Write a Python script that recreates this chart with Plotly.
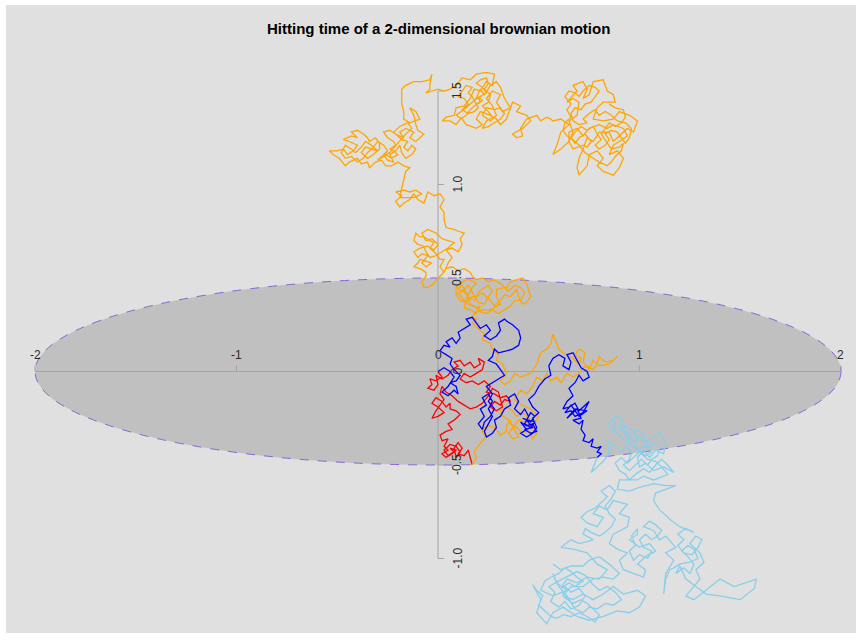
import plotly.graph_objects as go

# Two planar Brownian paths started at the origin.  Each one is drawn in one
# colour until it first hits the ellipse x^2/4 + y^2/0.25 = 1, and in a second
# colour afterwards.

# --- path 1 -----------------------------------------------------------------
red_path = [
    (0.00, 0.00), (0.02, -0.03), (-0.01, -0.05), (-0.04, -0.04), (-0.03, -0.07),
    (-0.05, -0.09), (-0.02, -0.10), (0.00, -0.07), (-0.01, -0.02),
    (0.02, -0.04), (0.05, -0.02), (0.07, 0.01), (0.10, 0.03), (0.08, 0.05),
    (0.11, 0.06), (0.13, 0.03), (0.16, 0.05), (0.18, 0.02), (0.21, 0.04),
    (0.20, 0.07), (0.23, 0.05), (0.22, 0.01), (0.19, -0.01), (0.16, -0.03),
    (0.13, -0.01), (0.11, -0.04), (0.14, -0.06), (0.17, -0.05), (0.20, -0.07),
    (0.23, -0.05), (0.26, -0.08), (0.24, -0.11), (0.28, -0.12), (0.31, -0.14),
    (0.34, -0.13), (0.36, -0.16), (0.33, -0.15), (0.31, -0.18), (0.28, -0.16),
    (0.26, -0.19), (0.29, -0.21), (0.32, -0.19), (0.30, -0.11), (0.27, -0.09),
    (0.25, -0.13), (0.22, -0.17), (0.19, -0.19), (0.16, -0.20), (0.13, -0.18),
    (0.10, -0.16), (0.07, -0.13), (0.04, -0.11), (0.02, -0.08), (0.01, -0.12),
    (0.03, -0.15), (0.01, -0.18), (-0.01, -0.21), (-0.03, -0.25), (0.00, -0.24),
    (0.03, -0.22), (0.00, -0.19), (-0.03, -0.17), (-0.01, -0.14), (0.02, -0.16),
    (0.04, -0.19), (0.06, -0.17), (0.06, -0.20), (0.09, -0.21), (0.11, -0.23),
    (0.08, -0.26), (0.05, -0.28), (0.07, -0.31), (0.04, -0.32), (0.01, -0.34),
    (0.02, -0.37), (0.05, -0.36), (0.03, -0.40), (0.05, -0.42), (0.02, -0.44),
    (0.04, -0.46), (0.07, -0.44), (0.09, -0.42), (0.06, -0.41), (0.08, -0.43),
    (0.05, -0.45), (0.03, -0.42), (0.06, -0.39), (0.09, -0.40), (0.11, -0.43),
    (0.09, -0.46), (0.08, -0.41), (0.10, -0.38), (0.12, -0.41), (0.10, -0.44),
    (0.13, -0.45), (0.15, -0.42), (0.16, -0.46), (0.17, -0.50),
]

orange_path = [
    # back inside the ellipse after the hit
    (0.17, -0.50), (0.19, -0.46), (0.18, -0.43), (0.20, -0.40), (0.22, -0.37),
    (0.24, -0.35), (0.22, -0.32), (0.23, -0.30), (0.26, -0.29), (0.29, -0.31),
    (0.31, -0.34), (0.34, -0.32), (0.34, -0.29), (0.36, -0.26), (0.36, -0.28),
    (0.39, -0.30), (0.42, -0.33), (0.45, -0.31), (0.47, -0.36), (0.49, -0.33),
    (0.46, -0.29), (0.43, -0.27), (0.40, -0.26), (0.38, -0.29), (0.35, -0.33),
    (0.37, -0.36), (0.40, -0.35), (0.38, -0.31), (0.36, -0.27), (0.34, -0.25),
    (0.32, -0.24), (0.31, -0.21), (0.34, -0.19), (0.37, -0.21), (0.39, -0.24),
    (0.42, -0.22), (0.45, -0.25), (0.48, -0.27), (0.50, -0.24), (0.47, -0.21),
    (0.44, -0.19), (0.40, -0.17), (0.38, -0.15), (0.41, -0.10), (0.44, -0.12),
    (0.47, -0.08), (0.49, -0.03), (0.52, -0.05), (0.54, -0.01), (0.56, -0.05),
    (0.59, -0.03), (0.61, -0.06), (0.64, -0.01), (0.67, -0.03), (0.70, -0.01),
    (0.72, 0.02), (0.74, 0.03), (0.77, 0.01), (0.79, 0.04), (0.80, 0.08),
    (0.83, 0.05), (0.87, 0.06), (0.89, 0.08), (0.85, 0.04), (0.80, 0.03),
    (0.77, 0.06), (0.75, 0.01), (0.72, 0.05), (0.73, 0.10), (0.70, 0.12),
    (0.68, 0.09), (0.71, 0.07), (0.70, 0.04), (0.67, 0.07),
    (0.65, 0.08), (0.62, 0.10), (0.60, 0.12), (0.59, 0.15), (0.57, 0.20),
    (0.56, 0.15), (0.54, 0.12), (0.51, 0.10), (0.50, 0.07), (0.49, 0.04),
    (0.46, -0.01), (0.43, -0.02), (0.41, -0.03), (0.38, -0.01), (0.36, -0.05),
    (0.33, -0.07), (0.31, -0.05), (0.34, -0.01), (0.32, 0.04), (0.29, 0.06),
    (0.30, 0.09), (0.27, 0.12), (0.26, 0.15), (0.22, 0.17), (0.23, 0.20),
    (0.21, 0.22), (0.17, 0.26), (0.19, 0.28), (0.17, 0.29), (0.19, 0.32),
    # crossing the top of the ellipse
    (0.22, 0.33), (0.26, 0.33), (0.31, 0.36), (0.29, 0.40), (0.29, 0.44),
    (0.34, 0.45), (0.36, 0.48), (0.39, 0.49), (0.42, 0.50), (0.44, 0.47),
    (0.45, 0.44), (0.46, 0.40), (0.44, 0.37), (0.42, 0.36), (0.40, 0.40),
    (0.39, 0.44), (0.36, 0.40), (0.33, 0.41), (0.31, 0.38), (0.28, 0.35),
    (0.26, 0.38), (0.24, 0.40), (0.22, 0.42), (0.19, 0.40), (0.17, 0.40),
    (0.14, 0.37), (0.11, 0.38), (0.09, 0.41), (0.09, 0.44), (0.12, 0.46),
    (0.14, 0.42), (0.16, 0.36), (0.19, 0.34), (0.21, 0.35), (0.19, 0.31),
    (0.16, 0.33), (0.13, 0.34), (0.14, 0.39), (0.17, 0.45), (0.19, 0.47),
    (0.16, 0.49), (0.14, 0.49), (0.11, 0.47), (0.09, 0.45), (0.12, 0.43),
    (0.15, 0.46), (0.20, 0.37), (0.23, 0.36), (0.25, 0.40), (0.27, 0.43),
    (0.25, 0.46), (0.22, 0.44), (0.20, 0.42), (0.18, 0.38), (0.15, 0.40),
    (0.13, 0.43), (0.10, 0.42), (0.12, 0.39), (0.15, 0.36), (0.18, 0.35),
    (0.21, 0.32), (0.24, 0.31), (0.27, 0.33), (0.30, 0.31), (0.33, 0.33),
    (0.36, 0.35), (0.38, 0.38), (0.41, 0.38), (0.43, 0.42), (0.41, 0.45),
    (0.38, 0.46), (0.35, 0.43), (0.33, 0.45), (0.31, 0.47), (0.28, 0.49),
    (0.25, 0.48), (0.22, 0.50), (0.19, 0.49), (0.17, 0.51), (0.16, 0.53),
    (0.13, 0.55), (0.10, 0.54), (0.07, 0.56), (0.04, 0.55),
    # around the vertical axis
    (0.02, 0.52), (-0.01, 0.49), (-0.02, 0.47), (-0.05, 0.45), (-0.07, 0.45),
    (-0.08, 0.48), (-0.06, 0.51), (-0.06, 0.53), (-0.09, 0.55), (-0.12, 0.56),
    (-0.10, 0.58), (-0.09, 0.60), (-0.06, 0.59), (-0.03, 0.58), (-0.06, 0.56),
    (-0.08, 0.58), (-0.05, 0.62), (-0.08, 0.63), (-0.10, 0.61), (-0.12, 0.64),
    (-0.09, 0.66), (-0.05, 0.67), (-0.02, 0.65), (0.00, 0.68), (-0.03, 0.71),
    (-0.06, 0.70), (-0.08, 0.74), (-0.05, 0.76), (-0.01, 0.74), (0.02, 0.71),
    (0.05, 0.70), (0.08, 0.69), (0.05, 0.66), (0.02, 0.64), (-0.01, 0.62),
    (-0.04, 0.61), (-0.06, 0.64),
    (-0.07, 0.67), (-0.10, 0.68), (-0.12, 0.70), (-0.11, 0.74), (-0.09, 0.72),
    (-0.07, 0.72), (-0.04, 0.70), (-0.02, 0.69), (-0.04, 0.66), (-0.01, 0.63),
    (0.01, 0.60), (0.03, 0.60), (0.01, 0.56), (0.03, 0.53), (0.05, 0.58),
    (0.07, 0.61), (0.04, 0.65), (0.07, 0.66), (0.10, 0.64), (0.12, 0.68),
    (0.11, 0.71), (0.13, 0.74), (0.10, 0.75), (0.08, 0.76), (0.04, 0.77),
    (0.03, 0.81), (0.03, 0.85), (0.01, 0.88), (0.03, 0.92), (0.01, 0.95),
    (-0.02, 0.94), (-0.05, 0.96), (-0.07, 0.90), (-0.10, 0.92), (-0.12, 0.95),
    (-0.14, 0.92), (-0.17, 0.90), (-0.19, 0.88), (-0.21, 0.91), (-0.18, 0.94),
    (-0.21, 0.96), (-0.17, 0.97), (-0.14, 0.96), (-0.11, 0.97), (-0.08, 0.95),
    (-0.12, 0.93), (-0.16, 0.93), (-0.19, 0.93),
    # upper-left excursion
    (-0.18, 0.98), (-0.17, 1.02), (-0.16, 1.07), (-0.14, 1.09), (-0.17, 1.10),
    (-0.20, 1.12), (-0.23, 1.10), (-0.26, 1.10), (-0.28, 1.13), (-0.31, 1.12),
    (-0.34, 1.09), (-0.35, 1.12), (-0.38, 1.11), (-0.40, 1.14), (-0.44, 1.12),
    (-0.46, 1.10), (-0.49, 1.14), (-0.52, 1.16), (-0.54, 1.18), (-0.50, 1.18),
    (-0.47, 1.19), (-0.45, 1.16), (-0.42, 1.18), (-0.40, 1.21), (-0.44, 1.23),
    (-0.47, 1.24), (-0.43, 1.26), (-0.40, 1.25), (-0.43, 1.28), (-0.40, 1.29),
    (-0.37, 1.27), (-0.35, 1.25), (-0.34, 1.23), (-0.31, 1.25), (-0.29, 1.22),
    (-0.29, 1.19), (-0.32, 1.16), (-0.35, 1.14), (-0.38, 1.17), (-0.36, 1.20),
    (-0.33, 1.19), (-0.30, 1.18), (-0.33, 1.21), (-0.36, 1.23), (-0.38, 1.20),
    (-0.41, 1.17), (-0.43, 1.19), (-0.46, 1.21), (-0.48, 1.17), (-0.46, 1.14),
    (-0.43, 1.15), (-0.40, 1.12), (-0.37, 1.14), (-0.35, 1.17), (-0.32, 1.20),
    (-0.30, 1.23), (-0.27, 1.21), (-0.25, 1.18), (-0.27, 1.16), (-0.25, 1.13),
    (-0.22, 1.12), (-0.24, 1.16), (-0.21, 1.18), (-0.19, 1.21), (-0.18, 1.17),
    (-0.16, 1.14), (-0.13, 1.16), (-0.11, 1.19), (-0.13, 1.21), (-0.15, 1.18),
    (-0.17, 1.20), (-0.15, 1.23), (-0.18, 1.24), (-0.20, 1.26), (-0.22, 1.28),
    (-0.19, 1.31), (-0.15, 1.33), (-0.13, 1.30), (-0.16, 1.27), (-0.20, 1.22),
    (-0.24, 1.17), (-0.28, 1.15), (-0.30, 1.13), (-0.27, 1.15), (-0.26, 1.16),
    (-0.23, 1.14), (-0.20, 1.16), (-0.22, 1.18), (-0.24, 1.19), (-0.21, 1.21),
    (-0.22, 1.23), (-0.25, 1.25), (-0.27, 1.28), (-0.24, 1.29), (-0.21, 1.27),
    (-0.17, 1.25), (-0.19, 1.28), (-0.16, 1.30), (-0.12, 1.28), (-0.14, 1.25),
    (-0.11, 1.23), (-0.09, 1.25), (-0.07, 1.27), (-0.10, 1.29), (-0.11, 1.32),
    (-0.12, 1.37), (-0.14, 1.41), (-0.11, 1.39), (-0.09, 1.35), (-0.14, 1.33),
    (-0.17, 1.35), (-0.17, 1.39), (-0.18, 1.43), (-0.18, 1.46), (-0.18, 1.51),
    (-0.16, 1.53), (-0.12, 1.55), (-0.08, 1.55), (-0.04, 1.56), (-0.03, 1.59),
    (-0.04, 1.54), (-0.04, 1.51), (-0.06, 1.49), (-0.03, 1.50), (0.00, 1.51),
    (0.03, 1.50), (0.06, 1.51),
    # top cluster
    (0.09, 1.53), (0.12, 1.57), (0.16, 1.56), (0.19, 1.59), (0.24, 1.60),
    (0.28, 1.59), (0.27, 1.53), (0.24, 1.55), (0.21, 1.50), (0.18, 1.51),
    (0.16, 1.46), (0.13, 1.42), (0.09, 1.41), (0.08, 1.37), (0.04, 1.36),
    (0.02, 1.34), (0.06, 1.34), (0.09, 1.32), (0.11, 1.35), (0.14, 1.37),
    (0.16, 1.40), (0.18, 1.42), (0.21, 1.44), (0.20, 1.47), (0.22, 1.45),
    (0.19, 1.43), (0.17, 1.47), (0.15, 1.49), (0.17, 1.52), (0.14, 1.53),
    (0.12, 1.50), (0.10, 1.47), (0.13, 1.46), (0.15, 1.43), (0.12, 1.40),
    (0.15, 1.38), (0.18, 1.39), (0.20, 1.41), (0.18, 1.45), (0.21, 1.47),
    (0.24, 1.49), (0.22, 1.52), (0.19, 1.54), (0.21, 1.56), (0.24, 1.57),
    (0.25, 1.54), (0.23, 1.51), (0.26, 1.48), (0.25, 1.44), (0.22, 1.42),
    (0.25, 1.39), (0.27, 1.36), (0.24, 1.34), (0.22, 1.30), (0.25, 1.31),
    (0.28, 1.33), (0.31, 1.35), (0.33, 1.38), (0.31, 1.41), (0.28, 1.40),
    (0.24, 1.41), (0.22, 1.37),
    (0.26, 1.34), (0.29, 1.37), (0.27, 1.42), (0.24, 1.46), (0.27, 1.50),
    (0.31, 1.48), (0.29, 1.44), (0.32, 1.39), (0.36, 1.41), (0.34, 1.35),
    (0.31, 1.32), (0.29, 1.35), (0.26, 1.37), (0.21, 1.39), (0.19, 1.35),
    (0.22, 1.32), (0.19, 1.30), (0.14, 1.32), (0.12, 1.35), (0.09, 1.37),
    (0.14, 1.41), (0.17, 1.44), (0.19, 1.46), (0.21, 1.51), (0.23, 1.48),
    (0.26, 1.53), (0.29, 1.55), (0.31, 1.52), (0.33, 1.46), (0.36, 1.41),
    (0.37, 1.44), (0.41, 1.42), (0.39, 1.39), (0.44, 1.37), (0.46, 1.34),
    (0.42, 1.30), (0.37, 1.27), (0.39, 1.25), (0.42, 1.26), (0.41, 1.30),
    (0.44, 1.35), (0.49, 1.37), (0.51, 1.34), (0.54, 1.36), (0.56, 1.35),
    (0.57, 1.34),
    # right cluster
    (0.61, 1.35), (0.65, 1.32), (0.61, 1.28), (0.59, 1.21), (0.57, 1.16),
    (0.61, 1.19), (0.65, 1.23), (0.67, 1.28), (0.65, 1.34), (0.69, 1.37),
    (0.70, 1.44), (0.67, 1.46), (0.64, 1.44), (0.69, 1.50), (0.67, 1.53),
    (0.72, 1.55), (0.74, 1.51), (0.72, 1.46), (0.75, 1.48), (0.77, 1.55),
    (0.82, 1.56), (0.84, 1.50), (0.87, 1.48), (0.88, 1.44), (0.82, 1.44),
    (0.79, 1.41), (0.77, 1.35), (0.82, 1.34), (0.87, 1.35), (0.90, 1.39),
    (0.95, 1.37), (0.99, 1.34), (0.97, 1.28), (0.94, 1.30), (0.90, 1.26),
    (0.87, 1.23), (0.85, 1.28), (0.80, 1.28), (0.77, 1.23), (0.74, 1.25),
    (0.72, 1.19), (0.70, 1.14), (0.69, 1.09), (0.70, 1.05), (0.74, 1.10),
    (0.75, 1.16), (0.79, 1.18), (0.82, 1.14), (0.79, 1.10), (0.82, 1.07),
    (0.87, 1.05), (0.90, 1.09), (0.92, 1.14), (0.89, 1.18), (0.85, 1.16),
    (0.87, 1.21), (0.90, 1.23), (0.94, 1.26), (0.92, 1.30), (0.87, 1.32),
    (0.84, 1.30), (0.80, 1.32), (0.75, 1.30), (0.72, 1.26), (0.69, 1.30),
    (0.65, 1.28), (0.65, 1.23), (0.67, 1.19), (0.72, 1.21), (0.74, 1.20),
    (0.76, 1.23), (0.73, 1.27), (0.70, 1.25), (0.68, 1.22), (0.66, 1.25),
    (0.68, 1.28), (0.71, 1.31), (0.74, 1.29), (0.77, 1.31), (0.79, 1.27),
    (0.81, 1.24), (0.78, 1.21), (0.80, 1.19), (0.83, 1.21), (0.85, 1.24),
    (0.83, 1.27), (0.86, 1.29), (0.89, 1.28), (0.91, 1.25), (0.93, 1.22),
    (0.95, 1.25), (0.96, 1.30), (0.93, 1.33), (0.89, 1.34), (0.86, 1.37),
    (0.83, 1.39), (0.80, 1.37), (0.78, 1.40), (0.75, 1.38), (0.72, 1.35),
    (0.74, 1.33), (0.70, 1.32), (0.67, 1.34), (0.66, 1.38), (0.68, 1.41),
    (0.71, 1.40), (0.73, 1.43), (0.76, 1.44), (0.78, 1.47), (0.80, 1.50),
    (0.78, 1.52), (0.75, 1.53), (0.72, 1.50), (0.70, 1.47), (0.68, 1.49),
    (0.65, 1.50), (0.63, 1.47), (0.66, 1.43), (0.64, 1.40), (0.66, 1.36),
    (0.63, 1.33), (0.62, 1.29), (0.64, 1.26), (0.67, 1.24), (0.70, 1.21),
    (0.73, 1.17), (0.77, 1.14), (0.80, 1.12), (0.84, 1.10), (0.86, 1.12),
    (0.88, 1.15), (0.91, 1.18), (0.92, 1.22), (0.90, 1.20), (0.86, 1.19),
    (0.84, 1.22), (0.81, 1.27), (0.83, 1.30), (0.85, 1.33), (0.88, 1.31),
    (0.91, 1.33), (0.93, 1.36), (0.92, 1.40), (0.88, 1.41), (0.85, 1.43),
]

# --- path 2 -----------------------------------------------------------------
blue_path = [
    (0.00, 0.00), (0.03, 0.02), (0.06, 0.00), (0.08, -0.03), (0.05, -0.08),
    (0.02, -0.11), (0.05, -0.13), (0.08, -0.10), (0.10, -0.12), (0.09, -0.08),
    (0.06, -0.06),
    (0.09, -0.05), (0.11, -0.02), (0.08, 0.01), (0.06, 0.04), (0.07, 0.07),
    (0.04, 0.09), (0.01, 0.11), (0.03, 0.14), (0.06, 0.13), (0.04, 0.16),
    (0.07, 0.18), (0.09, 0.15), (0.11, 0.18), (0.10, 0.21), (0.13, 0.23),
    (0.16, 0.25), (0.14, 0.28), (0.17, 0.29), (0.19, 0.26), (0.21, 0.23),
    (0.24, 0.25), (0.26, 0.22), (0.23, 0.19), (0.26, 0.17), (0.29, 0.19),
    (0.31, 0.22), (0.30, 0.26), (0.33, 0.28), (0.34, 0.27), (0.37, 0.25),
    (0.40, 0.22), (0.41, 0.18), (0.40, 0.14), (0.37, 0.12), (0.34, 0.11),
    (0.30, 0.10), (0.28, 0.12), (0.27, 0.08), (0.25, 0.06), (0.29, 0.04),
    (0.31, 0.01), (0.33, -0.02), (0.30, -0.04), (0.27, -0.06), (0.24, -0.08),
    (0.27, -0.12), (0.25, -0.16), (0.28, -0.20), (0.26, -0.24), (0.23, -0.27),
    (0.22, -0.31), (0.20, -0.28), (0.23, -0.24), (0.21, -0.20), (0.24, -0.18),
    (0.22, -0.14), (0.25, -0.12), (0.27, -0.16), (0.25, -0.20), (0.27, -0.24),
    (0.25, -0.28), (0.23, -0.32), (0.24, -0.35), (0.27, -0.33), (0.29, -0.30),
    (0.28, -0.26),
    (0.31, -0.24), (0.33, -0.20), (0.36, -0.18), (0.35, -0.14), (0.38, -0.12),
    (0.40, -0.16), (0.38, -0.20), (0.41, -0.23), (0.43, -0.20), (0.45, -0.24),
    (0.43, -0.28), (0.46, -0.30), (0.48, -0.27), (0.45, -0.26), (0.42, -0.25),
    (0.46, -0.27), (0.48, -0.24), (0.46, -0.22), (0.44, -0.26), (0.47, -0.30),
    (0.43, -0.31), (0.46, -0.33), (0.49, -0.32), (0.47, -0.28), (0.44, -0.29),
    (0.41, -0.27), (0.44, -0.31),
    (0.41, -0.33), (0.44, -0.35), (0.47, -0.33), (0.49, -0.30), (0.47, -0.25),
    (0.50, -0.22), (0.47, -0.19), (0.45, -0.15), (0.48, -0.12), (0.50, -0.08),
    (0.53, -0.04), (0.56, -0.02), (0.55, 0.03), (0.57, 0.07), (0.60, 0.09),
    (0.63, 0.07), (0.62, 0.03), (0.65, 0.01), (0.66, 0.05), (0.64, 0.09),
    (0.67, 0.10), (0.69, 0.06), (0.71, 0.02), (0.74, 0.00), (0.75, -0.03),
    (0.72, -0.05), (0.70, -0.02), (0.68, -0.06), (0.65, -0.09), (0.67, -0.13),
    (0.64, -0.16), (0.62, -0.20), (0.65, -0.19), (0.68, -0.17), (0.70, -0.21),
    (0.73, -0.18), (0.75, -0.16), (0.72, -0.22), (0.68, -0.24), (0.66, -0.21),
    (0.63, -0.22), (0.66, -0.18), (0.70, -0.24), (0.74, -0.21), (0.68, -0.20),
    (0.64, -0.25), (0.66, -0.23),
    (0.69, -0.20), (0.71, -0.25), (0.67, -0.26), (0.70, -0.28), (0.72, -0.26),
    (0.71, -0.31), (0.73, -0.34), (0.72, -0.37), (0.75, -0.38), (0.77, -0.36),
    (0.76, -0.40), (0.79, -0.41), (0.81, -0.40), (0.79, -0.43), (0.81, -0.44),
    (0.79, -0.46),
]

skyblue_path = [
    (0.79, -0.46), (0.76, -0.54), (0.79, -0.51), (0.82, -0.48), (0.85, -0.44),
    (0.84, -0.37), (0.88, -0.40), (0.91, -0.43), (0.93, -0.40), (0.96, -0.43),
    (0.95, -0.47), (0.92, -0.50), (0.95, -0.53), (0.98, -0.50), (1.01, -0.47),
    (1.04, -0.50), (1.06, -0.47), (1.09, -0.45), (1.10, -0.40), (1.07, -0.38),
    (1.05, -0.41), (1.02, -0.40), (0.99, -0.42), (0.96, -0.39), (0.92, -0.36),
    (0.89, -0.33), (0.87, -0.29), (0.88, -0.26),
    (0.87, -0.33), (0.84, -0.28), (0.89, -0.24), (0.92, -0.26),
    (0.90, -0.31), (0.95, -0.33), (0.94, -0.38), (0.99, -0.37), (0.97, -0.31),
    (1.02, -0.33), (1.03, -0.38), (1.07, -0.35), (1.10, -0.33), (1.13, -0.38),
    (1.12, -0.44), (1.08, -0.42), (1.05, -0.46), (1.02, -0.42), (0.99, -0.46),
    (1.00, -0.51), (1.03, -0.49), (1.07, -0.53), (1.12, -0.51), (1.17, -0.54),
    (1.14, -0.50), (1.11, -0.47), (1.08, -0.50), (1.05, -0.54), (1.02, -0.52),
    (0.98, -0.55), (0.95, -0.58), (0.93, -0.55), (0.90, -0.53), (0.88, -0.49),
    (0.91, -0.46), (0.94, -0.49), (0.97, -0.46), (1.00, -0.43), (1.03, -0.45),
    (1.06, -0.43), (1.04, -0.39), (1.01, -0.36), (0.98, -0.34), (0.95, -0.30),
    (0.92, -0.29), (0.93, -0.34), (0.96, -0.36), (0.98, -0.40), (1.01, -0.44),
    (1.04, -0.47), (1.08, -0.48), (1.11, -0.51), (1.14, -0.55),
    (1.12, -0.56), (1.07, -0.58), (1.02, -0.56), (0.99, -0.58), (0.90, -0.58),
    (0.89, -0.63), (0.95, -0.64), (1.00, -0.62), (1.07, -0.60), (1.13, -0.61),
    (1.18, -0.61), (1.13, -0.63), (1.08, -0.65), (1.07, -0.69), (1.10, -0.74),
    (1.15, -0.79), (1.20, -0.83), (1.27, -0.86), (1.23, -0.84), (1.19, -0.87),
    (1.22, -0.90), (1.19, -0.93), (1.22, -0.97), (1.26, -0.98), (1.29, -0.94),
    (1.31, -0.90), (1.28, -0.88), (1.25, -0.92), (1.30, -0.97),
    (1.32, -1.02), (1.28, -1.06), (1.30, -1.11), (1.27, -1.15), (1.23, -1.20),
    (1.27, -1.22), (1.33, -1.17), (1.40, -1.11), (1.47, -1.15), (1.58, -1.11),
    (1.57, -1.16), (1.50, -1.22), (1.40, -1.20), (1.33, -1.19), (1.28, -1.15),
    (1.23, -1.11), (1.20, -1.04), (1.18, -1.08), (1.22, -1.05), (1.25, -1.08),
    (1.27, -1.03), (1.24, -0.99), (1.21, -0.96), (1.24, -0.93), (1.27, -0.95),
    (1.29, -1.00), (1.25, -1.02), (1.20, -1.03), (1.17, -1.05),
    (1.15, -1.06), (1.13, -1.11), (1.12, -1.19),
    (1.13, -1.08), (1.17, -1.01), (1.13, -0.97), (1.18, -0.94), (1.13, -0.88),
    (1.10, -0.90), (1.07, -0.85), (1.02, -0.83), (1.05, -0.80), (1.08, -0.82),
    (1.11, -0.85), (1.09, -0.88), (1.06, -0.90), (1.03, -0.87), (1.00, -0.90),
    (1.02, -0.94), (1.06, -0.96), (1.04, -1.00), (1.00, -0.98), (0.97, -1.01),
    (0.95, -0.96), (0.98, -0.93), (0.96, -0.88), (0.99, -0.84),
    (0.99, -0.87), (0.95, -0.90),
    (1.00, -0.94), (1.05, -0.92), (1.08, -0.96), (1.03, -0.99), (0.99, -1.03),
    (1.03, -1.06), (1.02, -1.10), (0.97, -1.08), (0.92, -1.06), (0.90, -1.01),
    (0.94, -0.97), (0.89, -0.95), (0.85, -0.92), (0.87, -0.87), (0.94, -0.83),
    (0.95, -0.78), (0.90, -0.76), (0.94, -0.71), (0.87, -0.69), (0.84, -0.74),
    (0.80, -0.72), (0.77, -0.76), (0.82, -0.78), (0.79, -0.83), (0.74, -0.81),
    (0.71, -0.78), (0.74, -0.75), (0.78, -0.73), (0.81, -0.70), (0.84, -0.67),
    (0.81, -0.64), (0.85, -0.61), (0.88, -0.64), (0.86, -0.68), (0.83, -0.72),
    (0.85, -0.76), (0.88, -0.79), (0.86, -0.83), (0.83, -0.86), (0.80, -0.88),
    (0.76, -0.86), (0.73, -0.84),
    (0.72, -0.87), (0.77, -0.90), (0.70, -0.92), (0.66, -0.90), (0.61, -0.94),
    (0.67, -0.95), (0.74, -0.97), (0.79, -1.03), (0.84, -1.06), (0.80, -1.11),
    (0.74, -1.10), (0.69, -1.13), (0.64, -1.11), (0.62, -1.14), (0.66, -1.18),
    (0.70, -1.16), (0.73, -1.20), (0.70, -1.25), (0.66, -1.27), (0.63, -1.23),
    (0.60, -1.26), (0.56, -1.23), (0.58, -1.18), (0.55, -1.15), (0.60, -1.12),
    (0.65, -1.09), (0.69, -1.07), (0.73, -1.09), (0.77, -1.14), (0.80, -1.17),
    (0.84, -1.15), (0.88, -1.18), (0.91, -1.22), (0.87, -1.25), (0.83, -1.24),
    (0.79, -1.27), (0.75, -1.26), (0.72, -1.29), (0.68, -1.27), (0.64, -1.20),
    (0.60, -1.15), (0.58, -1.11), (0.57, -1.08), (0.59, -1.13),
    (0.64, -1.17), (0.57, -1.20), (0.51, -1.17), (0.53, -1.12), (0.56, -1.10),
    (0.60, -1.08), (0.63, -1.05), (0.66, -1.07), (0.69, -1.10), (0.72, -1.12),
    (0.68, -1.15), (0.65, -1.13), (0.61, -1.16), (0.63, -1.21), (0.67, -1.24),
    (0.71, -1.22), (0.74, -1.24), (0.77, -1.27), (0.80, -1.30), (0.78, -1.34),
    (0.74, -1.31), (0.70, -1.29), (0.66, -1.31), (0.62, -1.30), (0.59, -1.32),
    (0.56, -1.31), (0.53, -1.28), (0.50, -1.25), (0.52, -1.20), (0.49, -1.17),
    (0.47, -1.14), (0.51, -1.22),
    (0.49, -1.29), (0.54, -1.35), (0.57, -1.29), (0.62, -1.26), (0.69, -1.31),
    (0.75, -1.33), (0.82, -1.31), (0.89, -1.28), (0.95, -1.29), (1.00, -1.26),
    (1.03, -1.20), (0.99, -1.17), (0.92, -1.19), (0.87, -1.15), (0.82, -1.19),
    (0.77, -1.22), (0.72, -1.19), (0.67, -1.22), (0.62, -1.20), (0.66, -1.15),
    (0.72, -1.15), (0.77, -1.11), (0.82, -1.10), (0.87, -1.11), (0.90, -1.08),
    (0.85, -1.03), (0.80, -0.99), (0.75, -1.01), (0.72, -1.04), (0.66, -1.04),
    (0.61, -1.06), (0.57, -1.03),
]

# --- axes -------------------------------------------------------------------
x_ticks = [-2, -1, 0, 1, 2]
x_tick_labels = ["-2", "-1", "0", "1", "2"]
y_ticks = [-1.0, -0.5, 0.0, 0.5, 1.0, 1.5]
y_tick_labels = ["-1.0", "-0.5", "0", "0.5", "1.0", "1.5"]

# ellipse semi-axes
ellipse_a = 2.0
ellipse_b = 0.5

title_text = "Hitting time of a 2-dimensional brownian motion"

paths = [
    (red_path, "#ff0000"),
    (orange_path, "#ffa500"),
    (blue_path, "#0000ff"),
    (skyblue_path, "#87ceeb"),
]

fig = go.Figure()
for pts, colour in paths:
    fig.add_trace(go.Scatter(
        x=[p[0] for p in pts],
        y=[p[1] for p in pts],
        mode="lines",
        line=dict(color=colour, width=1.3),
        hoverinfo="skip",
        showlegend=False,
    ))

axis_grey = "#a4a4a4"
shapes = [
    dict(type="circle", xref="x", yref="y",
         x0=-ellipse_a, x1=ellipse_a, y0=-ellipse_b, y1=ellipse_b,
         fillcolor="#c0c0c0", line=dict(color="#8d63d6", width=1, dash="dash"),
         layer="below"),
    dict(type="line", xref="x", yref="y", x0=x_ticks[0], x1=x_ticks[-1], y0=0, y1=0,
         line=dict(color=axis_grey, width=1), layer="below"),
    dict(type="line", xref="x", yref="y", x0=0, x1=0, y0=y_ticks[0], y1=y_ticks[-1],
         line=dict(color=axis_grey, width=1), layer="below"),
]
for xt in x_ticks:
    shapes.append(dict(type="line", xref="x", yref="y", x0=xt, x1=xt, y0=0, y1=0.033,
                       line=dict(color=axis_grey, width=1), layer="below"))
for yt in y_ticks:
    shapes.append(dict(type="line", xref="x", yref="y", x0=0, x1=0.03, y0=yt, y1=yt,
                       line=dict(color=axis_grey, width=1), layer="below"))

label_font = dict(family="Liberation Sans, Arial, sans-serif", size=12, color="#2a2a2a")
annotations = []
for xt, lab in zip(x_ticks, x_tick_labels):
    annotations.append(dict(x=xt, y=0, xref="x", yref="y", text=lab, showarrow=False,
                            xanchor="center", yanchor="middle", yshift=17,
                            font=label_font))
for yt, lab in zip(y_ticks, y_tick_labels):
    annotations.append(dict(x=0, y=yt, xref="x", yref="y", text=lab, showarrow=False,
                            xanchor="center", yanchor="middle", xshift=19,
                            textangle=-90, font=label_font))
annotations.append(dict(x=0, y=0.963, xref="x", yref="paper", text=f"<b>{title_text}</b>",
                        showarrow=False, xanchor="center", yanchor="middle",
                        font=dict(family="Liberation Sans, Arial, sans-serif", size=15,
                                  color="#000000")))

fig.update_layout(
    width=856, height=640,
    margin=dict(l=6, r=0, t=5, b=7),
    paper_bgcolor="#ffffff",
    plot_bgcolor="#e0e0e0",
    xaxis=dict(range=[-2.144, 2.0745], visible=False, fixedrange=True),
    yaxis=dict(range=[-1.3984, 1.9599], visible=False, fixedrange=True),
    shapes=shapes,
    annotations=annotations,
)

fig.write_html("out.html")
